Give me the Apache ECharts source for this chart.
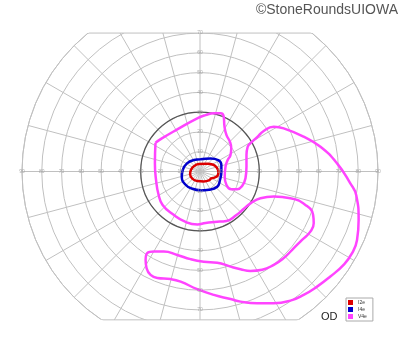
<!DOCTYPE html>
<html><head><meta charset="utf-8">
<script src="https://cdn.jsdelivr.net/npm/echarts@6/dist/echarts.min.js"></script>
<style>html,body{margin:0;padding:0;background:#fff}#c{width:400px;height:352px}</style>
</head><body><div id="c"></div>
<script>
// Goldmann visual field (OD) – eccentricity ticks (degrees)
const upTicks = [10,20,30,40,50,60,70];
const downTicks = [10,20,30,40,50,60,70];
const leftTicks = [10,20,30,40,50,60,70,80,90];
const rightTicks = [10,20,30,40,50,60,70,80,90];
const fieldMax = 90;      // outer circle (deg)
const fieldTop = 70;      // upper field limit (deg)
const fieldBottom = 75;   // lower field limit (deg)
const darkRing = 30;      // emphasised ring (deg)

const isopterNames = ['I2e','I4e','V4e'];
const isopterColors = ['#dd0000','#0000cc','#ff44ff'];

// isopters as [horizontal deg (+ right), vertical deg (+ up)]
const i2e = [[-3.1,2.6],[-0.6,3.8],[3.6,3.9],[6.7,3.4],[8.5,1.9],[9.3,-0.1],[8.9,-2.1],[7.3,-3.1],[5.7,-3.5],[4.5,-4.5],[1.9,-5.0],[-1.4,-4.8],[-3.9,-3.6],[-5.0,-1.4],[-4.6,0.8]];
const i4e = [[0.3,6.2],[5.3,6.6],[9.2,5.8],[10.8,3.3],[10.8,-0.1],[10.1,-4.3],[8.7,-7.7],[4.5,-9.2],[0.3,-9.5],[-3.9,-8.7],[-7.4,-6.6],[-9.2,-2.6],[-8.7,0.8],[-6.6,4.1],[-3.1,5.8]];
const v4e = [[-22.5,14.5],[-19.5,16.6],[-11.5,21.3],[-1.4,26.9],[2.8,28.5],[7.0,29.4],[10.4,29.4],[12.0,27.7],[12.4,22.6],[13.4,18.4],[15.1,15.1],[15.8,11.7],[15.4,8.3],[14.0,5.8],[12.9,2.4],[12.5,-2.6],[13.4,-6.8],[15.8,-9.0],[18.8,-9.0],[21.3,-7.3],[23.0,-3.4],[23.5,2.4],[23.5,8.3],[24.1,12.5],[26.4,15.1],[28.9,17.3],[32.2,20.5],[37.3,22.6],[42.3,21.8],[52.4,17.6],[60.9,12.5],[69.3,4.1],[76.0,-6.0],[79.0,-12.0],[80.2,-24.5],[79.4,-34.6],[76.9,-41.3],[72.6,-47.2],[65.9,-53.1],[59.2,-58.2],[52.4,-62.4],[45.7,-65.3],[37.3,-66.6],[28.9,-66.6],[20.5,-65.8],[15.4,-64.5],[7.0,-62.4],[-1.4,-59.5],[-9.8,-55.7],[-14.9,-54.4],[-21.6,-53.9],[-25.0,-52.3],[-27.0,-48.9],[-27.5,-44.7],[-26.7,-41.3],[-23.3,-40.5],[-18.3,-40.5],[-11.5,-42.2],[-4.8,-44.3],[1.9,-45.6],[8.7,-46.1],[15.4,-48.1],[20.5,-49.4],[25.5,-50.3],[31.4,-49.7],[37.3,-47.2],[42.3,-43.8],[46.6,-39.6],[51.6,-34.6],[55.8,-30.4],[57.5,-26.2],[57.2,-22.0],[53.3,-16.9],[45.7,-13.5],[37.3,-12.7],[30.6,-13.5],[25.5,-16.1],[22.0,-19.0],[18.4,-22.0],[13.4,-25.0],[7.3,-25.5],[2.8,-26.0],[-1.3,-26.8],[-7.3,-25.5],[-13.5,-21.8],[-18.9,-16.9],[-21.0,-11.5],[-22.2,-4.5],[-22.8,4.0]];

const deg = 180/Math.PI;
function toPolar(pts){
  const out = pts.map(([x,y]) => [Math.hypot(x,y), (Math.atan2(y,x)*deg+360)%360]);
  out.push(out[0]);
  return out;
}
const CX = 200, CY = 171.5, R = 178;
const gridColor = '#c0c0c0';

const topA = Math.atan2(fieldTop, Math.sqrt(fieldMax*fieldMax-fieldTop*fieldTop))*deg;
const botA = Math.atan2(fieldBottom, Math.sqrt(fieldMax*fieldMax-fieldBottom*fieldBottom))*deg;

function tickSeries(ticks, angle, offset){
  return {type:'scatter', coordinateSystem:'polar', polarIndex:0, z:60, silent:true,
    symbolSize:1, itemStyle:{color:'rgba(0,0,0,0)'},
    data: ticks.map(v=>[v, angle]),
    label:{show:true, position:'inside', offset:offset, formatter:p=>p.value[0], fontSize:5, color:'#999', fontFamily:'Liberation Sans'}};
}

const isopters = [i2e,i4e,v4e];
const chart = echarts.init(document.getElementById('c'), null, {renderer:'canvas'});
chart.setOption({
  animation:false,
  title:[
    {text:'\u00A9StoneRoundsUIOWA', right:2, top:3, padding:0, z:100, textStyle:{fontSize:14, fontWeight:'normal', color:'#555', fontFamily:'Liberation Sans'}},
    {text:'OD', left:321, top:311, padding:0, z:100, textStyle:{fontSize:11, fontWeight:'normal', color:'#222', fontFamily:'Liberation Sans'}}
  ],
  legend:{orient:'vertical', left:346, top:298, z:100, icon:'rect', itemWidth:5, itemHeight:5, itemGap:2, itemStyle:{borderWidth:0},
    data:isopterNames, selectedMode:false,
    textStyle:{fontSize:5, color:'#333', fontFamily:'Liberation Sans'}, itemTextGap:4,
    borderColor:'#aaa', borderWidth:1, padding:[2,6,2,2], backgroundColor:'#fff'},
  polar:[{center:[CX,CY], radius:R},{center:[CX,CY], radius:R*darkRing/fieldMax}],
  angleAxis:[
    {polarIndex:0, type:'value', min:0, max:360, interval:15, startAngle:0, clockwise:false,
     axisLine:{show:true, lineStyle:{color:gridColor, width:1}}, axisTick:{show:false}, axisLabel:{show:false},
     splitLine:{show:true, lineStyle:{color:gridColor, width:1}}},
    {polarIndex:1, type:'value', min:0, max:360, startAngle:0, clockwise:false,
     axisLine:{show:true, lineStyle:{color:'#555', width:1.2}}, axisTick:{show:false}, axisLabel:{show:false}, splitLine:{show:false}}
  ],
  radiusAxis:[
    {polarIndex:0, type:'value', min:0, max:fieldMax, interval:10,
     axisLine:{show:false}, axisTick:{show:false}, axisLabel:{show:false},
     splitLine:{show:true, lineStyle:{color:gridColor, width:1}}},
    {polarIndex:1, type:'value', min:0, max:darkRing,
     axisLine:{show:false}, axisTick:{show:false}, axisLabel:{show:false}, splitLine:{show:false}}
  ],
  series:[
    ...isopters.map((pts,i)=>({
      name:isopterNames[i], type:'line', coordinateSystem:'polar', polarIndex:0, z:10,
      data:toPolar(pts), smooth:0.5, showSymbol:false, symbol:'none', silent:true,
      lineStyle:{color:isopterColors[i], width:2.5}, itemStyle:{color:isopterColors[i]}
    })),
    {type:'line', coordinateSystem:'polar', polarIndex:0, z:60, silent:true, showSymbol:false, symbol:'none',
     data:[[fieldMax, topA],[fieldMax, 180-topA]], lineStyle:{color:gridColor, width:1}},
    {type:'line', coordinateSystem:'polar', polarIndex:0, z:60, silent:true, showSymbol:false, symbol:'none',
     data:[[fieldMax, 360-botA],[fieldMax, 180+botA]], lineStyle:{color:gridColor, width:1}},
    tickSeries(upTicks, 90, [0,0]),
    tickSeries(downTicks, 270, [0,0]),
    tickSeries(leftTicks, 180, [0,0]),
    tickSeries(rightTicks, 0, [0,0])
  ]
});
const pTop = chart.convertToPixel({polarIndex:0}, [fieldTop, 90]);
const pBot = chart.convertToPixel({polarIndex:0}, [fieldBottom, 270]);
chart.setOption({graphic:[
  {type:'rect', z:50, silent:true, shape:{x:0, y:0, width:400, height:pTop[1]}, style:{fill:'#fff'}},
  {type:'rect', z:50, silent:true, shape:{x:0, y:pBot[1], width:400, height:352-pBot[1]}, style:{fill:'#fff'}}
]});
</script>
</body></html>
